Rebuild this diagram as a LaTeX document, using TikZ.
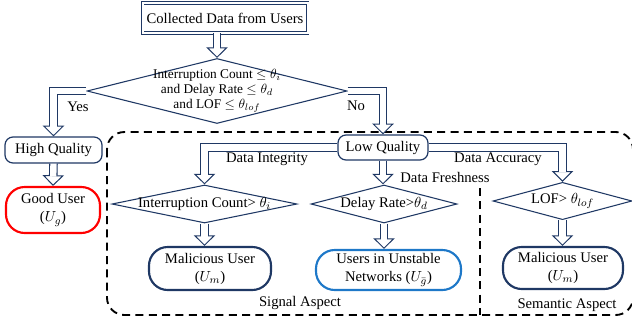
\documentclass[tikz,border=0pt]{standalone}
\usepackage{amsfonts,amsmath,amssymb}
\usepackage{xcolor}
\usepackage{fontspec}
\setmainfont{Liberation Serif}
\usepackage{tikz}
\usetikzlibrary{arrows.meta,shapes.geometric}

\definecolor{navy}{RGB}{31,56,100}
\definecolor{netblue}{RGB}{30,120,200}

\tikzset{
  box/.style={draw=navy, line width=0.9pt, rounded corners=6pt, align=center, inner sep=0pt},
  user/.style={draw=navy, line width=1.6pt, rounded corners=14pt, align=center, inner sep=0pt},
  check/.style={draw=navy, diamond, line width=0.8pt, inner sep=-25pt, align=center},
  hollow/.style={draw=navy, line width=6.4pt,
    -{Triangle[length=8pt 0 0, width=16pt 0 0, line width=0.75pt 0 0, fill=white]},
    postaction={draw=white, line width=4.8pt, -, shorten >=7pt}},
  region/.style={dashed, dash pattern=on 6pt off 4pt, line width=1.4pt, rounded corners=13pt}
}

\begin{document}
\begin{tikzpicture}[x=0.75pt,y=-0.75pt,font=\fontsize{11}{13.5}\selectfont]
\useasboundingbox (0,0) rectangle (632,326);

\draw[region] (107,132) rectangle (633,315);
\draw[region] (480,188) -- (480,315);

\node[box, rounded corners=0pt, line width=0.6pt, double, double distance=1.5pt,
      minimum width=123.75pt, minimum height=22.5pt]   (S) at (225,18)    {Collected Data from Users};
  \node[check, minimum width=195pt, minimum height=48.75pt,
        font=\fontsize{10}{11.25}\selectfont]          (Q) at (217,91)
        {Interruption Count $\leq \theta_i$\\ and Delay Rate $\leq \theta_d$\\ and LOF $\leq \theta_{lof}$};
  \node[box, minimum width=72.75pt, minimum height=19.5pt]  (H) at (53.5,150)  {High Quality};
  \node[user, draw=red, minimum width=70.5pt, minimum height=34.5pt]  (G) at (53,210) {Good User\\($U_g$)};
  \node[box, minimum width=67.5pt, minimum height=18.75pt]  (L) at (383,147.5) {Low Quality};
  \node[check, minimum width=138.75pt, minimum height=28.5pt] (I) at (204.5,204) {Interruption Count> $\theta_i$};
  \node[check, minimum width=109.5pt, minimum height=28.5pt]  (R) at (384,204)   {Delay Rate>$\theta_d$};
  \node[check, minimum width=104.25pt, minimum height=28pt]   (F) at (562.5,201) {LOF> $\theta_{lof}$};
  \node[user, minimum width=91.5pt, minimum height=32.25pt]   (M) at (210,268.5) {Malicious User\\($U_m$)};
  \node[user, draw=netblue, minimum width=108.75pt, minimum height=30pt] (N) at (388.5,270) {Users in Unstable\\Networks ($U_{\bar{g}}$)};
  \node[user, minimum width=90pt, minimum height=31.5pt]      (K) at (563,268)   {Malicious User\\($U_m$)};

\node (Y)  at (78,107)  {Yes};
\node (O)  at (356,106) {No};
\node (DI) at (267,159) {Data Integrity};
\node (DA) at (498,159) {Data Accuracy};
\node (DF) at (445,177) {Data Freshness};
\node (SA) at (300,303) {Signal Aspect};
\node (SE) at (567,305) {Semantic Aspect};

  \draw[hollow] (S.south -| Q.north) -- (Q.north);
  \draw[hollow] (Q.west) -| (H.north);
  \draw[hollow] (Q.east) -| (L.north);
  \draw[hollow] (H.south) -- (G.north);
  \draw[hollow] (L.west) -| (I.north);
  \draw[hollow] (L.south) -- (L.south |- R.north);
  \draw[hollow] (L.east) -| (F.north);
  \draw[hollow] (I.south) -- (I.south |- M.north);
  \draw[hollow] (R.south) -- (R.south |- N.north);
  \draw[hollow] (F.south) -- (F.south |- K.north);
\end{tikzpicture}
\end{document}
